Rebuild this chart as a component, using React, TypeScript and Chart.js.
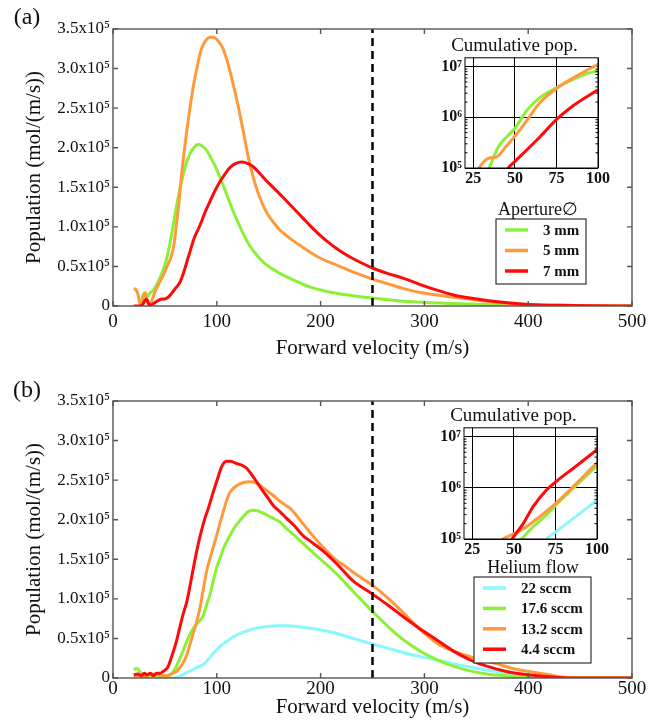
import React, { useEffect, useRef } from 'react';
import { Chart, registerables } from 'chart.js';
Chart.register(...registerables);

const FONT = '"Liberation Serif", "DejaVu Serif", serif';

// ---------- axis ticks ----------
const X_TICKS = [0, 100, 200, 300, 400, 500];
const X_TICK_LABELS = ['0', '100', '200', '300', '400', '500'];
const Y_TICKS = [0, 0.5, 1, 1.5, 2, 2.5, 3, 3.5]; // units of 1e5
const Y_TICK_LABELS = ['0', '0.5x10⁵', '1.0x10⁵', '1.5x10⁵', '2.0x10⁵', '2.5x10⁵', '3.0x10⁵', '3.5x10⁵'];
const INSET_X_TICKS = [25, 50, 75, 100];
const INSET_X_LABELS = ['25', '50', '75', '100'];
const INSET_Y_TICKS = [1e5, 1e6, 1e7];
const INSET_Y_LABELS = ['10⁵', '10⁶', '10⁷'];
const CUTOFF_VELOCITY = 250;
const CUTOFF_RANGE = [0, 3.5];

// ---------- panel (a): aperture ----------
const A_LABELS = ['3 mm', '5 mm', '7 mm'];
const A_3MM: [number, number][] = [[27,0.04],[29,0.14],[31,0.17],[33,0.12],[36,0.17],[39,0.2],[42,0.27],[45,0.35],[48.5,0.46],[51.7,0.6],[55,0.8],[58,1.02],[61,1.25],[64.5,1.48],[68,1.68],[71,1.82],[74,1.92],[77.4,1.99],[80,2.03],[83,2.04],[86,2.02],[90,1.97],[94,1.88],[98,1.78],[102,1.66],[106,1.53],[111,1.36],[116,1.19],[121,1.04],[125.6,0.91],[130,0.8],[135,0.7],[140,0.62],[145,0.55],[151,0.49],[156,0.45],[161,0.41],[167,0.37],[175,0.32],[183,0.275],[191,0.235],[199,0.205],[215,0.16],[231,0.13],[250,0.1],[265,0.08],[280,0.06],[300,0.045],[320,0.035],[344,0.025],[370,0.015],[400,0.008],[450,0.003],[500,0.001]];
const A_5MM: [number, number][] = [[20,0.22],[22,0.21],[24,0.15],[26,0.03],[27.6,0],[29,0.1],[30.8,0.16],[32.5,0.1],[34,0.02],[35.6,0],[37,0.05],[40.5,0.18],[44,0.28],[48.5,0.39],[52,0.5],[56.5,0.64],[59,0.8],[61,1.02],[63.5,1.3],[66,1.65],[70,2.1],[74,2.49],[78,2.82],[82,3.08],[85,3.24],[88.6,3.34],[92,3.39],[96,3.4],[100,3.37],[103,3.32],[106,3.25],[111,3.05],[116,2.79],[121,2.5],[125.6,2.2],[130,1.9],[135,1.63],[140,1.42],[145,1.26],[150,1.14],[155,1.05],[160,0.97],[167,0.89],[175,0.81],[183,0.74],[191,0.67],[199,0.61],[207,0.56],[215,0.52],[231,0.43],[250,0.34],[265,0.28],[280,0.22],[296,0.17],[312,0.14],[328,0.11],[344,0.085],[360,0.06],[380,0.035],[400,0.02],[430,0.008],[460,0.003],[500,0.001]];
const A_7MM: [number, number][] = [[20,0],[26,0],[28,0.01],[30,0.05],[32,0.09],[34,0.04],[36,0.01],[38,0.02],[41,0.05],[44,0.07],[47,0.09],[50,0.09],[53,0.11],[56.5,0.16],[60,0.22],[64.5,0.3],[68,0.42],[71,0.55],[74,0.68],[78,0.85],[83.8,1.02],[88,1.16],[93.4,1.32],[98,1.45],[103,1.57],[108,1.67],[112.7,1.75],[118,1.8],[124,1.82],[130,1.8],[135,1.76],[141,1.68],[148,1.58],[155,1.49],[161,1.41],[167,1.33],[175,1.22],[183,1.11],[191,1.0],[199,0.9],[207,0.81],[215,0.73],[223,0.66],[231,0.6],[240,0.54],[250,0.48],[265,0.41],[280,0.35],[296,0.27],[312,0.2],[328,0.14],[344,0.1],[360,0.07],[380,0.04],[400,0.02],[430,0.008],[460,0.003],[500,0]];

// inset (a): cumulative population
const AI_3MM: [number, number][] = [[33,7e4],[34.6,1e5],[40,2.6e5],[45,4.1e5],[50.4,6.3e5],[57,1.35e6],[65,2.45e6],[75.4,3.9e6],[85,5.6e6],[92,7.1e6],[100,8.3e6]];
const AI_5MM: [number, number][] = [[27,7e4],[28.6,1e5],[32,1.4e5],[35,1.6e5],[39,1.66e5],[45,2.75e5],[50.4,4.4e5],[57,8.5e5],[65,1.95e6],[75.4,3.8e6],[85,6.0e6],[100,1.12e7]];
const AI_7MM: [number, number][] = [[44,8e4],[46,1e5],[50.4,1.38e5],[65,4.1e5],[75.4,9.3e5],[85,1.7e6],[100,3.5e6]];

// ---------- panel (b): helium flow ----------
const B_LABELS = ['22 sccm', '17.6 sccm', '13.2 sccm', '4.4 sccm'];
const B_22: [number, number][] = [[50,0],[58,0],[62,0.01],[66,0.03],[71,0.07],[76,0.1],[80,0.13],[84,0.15],[88,0.18],[92,0.24],[96.6,0.31],[100,0.36],[105,0.42],[109.5,0.46],[115,0.51],[122,0.56],[130,0.6],[138.4,0.63],[145,0.645],[151,0.655],[160,0.66],[167,0.66],[175,0.655],[183,0.64],[199,0.61],[215,0.565],[231,0.5],[250,0.43],[265,0.375],[280,0.32],[296,0.27],[312,0.23],[328,0.18],[344,0.14],[360,0.1],[380,0.06],[400,0.035],[420,0.015],[440,0.005],[460,0],[500,0]];
const B_176: [number, number][] = [[20,0.11],[23,0.12],[26,0.08],[28,0.03],[32,0.02],[38,0.03],[44,0.02],[48,0.02],[52,0.02],[56,0.05],[60,0.12],[64.5,0.25],[68,0.36],[71,0.46],[74,0.55],[77.4,0.63],[82,0.7],[87,0.79],[90,0.92],[93.4,1.05],[97,1.25],[100,1.4],[103,1.51],[106,1.62],[109,1.71],[112.7,1.8],[117,1.9],[121,1.97],[125.6,2.04],[130,2.1],[135,2.12],[140,2.11],[145,2.08],[151,2.04],[157,2.0],[161,1.97],[167,1.89],[175,1.8],[183,1.7],[199,1.51],[215,1.32],[231,1.1],[250,0.84],[265,0.65],[280,0.48],[296,0.34],[312,0.23],[328,0.15],[344,0.09],[360,0.05],[380,0.025],[400,0.01],[420,0.003],[440,0],[500,0]];
const B_132: [number, number][] = [[20,0.02],[25,0.03],[30,0.02],[35,0.04],[40,0.05],[45,0.04],[48.5,0.03],[52,0.03],[56,0.05],[61,0.08],[65,0.14],[68,0.2],[71,0.29],[74,0.42],[77,0.55],[80.6,0.71],[84,0.9],[87,1.12],[90,1.34],[95,1.58],[99.8,1.8],[104,2.0],[108,2.18],[111,2.3],[114,2.37],[118,2.42],[125.6,2.47],[131,2.48],[136.8,2.47],[142,2.43],[148,2.37],[155,2.3],[161,2.23],[171,2.14],[183,1.95],[191,1.82],[199,1.7],[207,1.59],[215,1.49],[223,1.42],[231,1.34],[240,1.26],[250,1.17],[263,1.03],[280,0.82],[296,0.61],[312,0.44],[328,0.34],[344,0.27],[360,0.21],[370,0.18],[385,0.12],[402,0.08],[420,0.04],[434,0.01],[450,0],[500,0]];
const B_44: [number, number][] = [[20,0.04],[24,0.05],[27,0.03],[30,0.06],[33,0.04],[36,0.06],[39,0.03],[42,0.06],[45,0.06],[48,0.08],[51,0.11],[53.3,0.15],[56,0.25],[58.5,0.35],[61,0.46],[64,0.62],[67,0.78],[71,0.96],[74,1.15],[77,1.36],[80.6,1.6],[84,1.8],[88.6,2.02],[92,2.15],[96.6,2.35],[100,2.49],[104.7,2.67],[107,2.72],[109.5,2.74],[113,2.74],[119,2.71],[124,2.69],[128.8,2.65],[133,2.58],[138.4,2.48],[144,2.37],[149.6,2.27],[155,2.17],[161,2.1],[167,2.02],[175,1.92],[183,1.8],[191,1.72],[202,1.61],[215,1.45],[231,1.23],[250,1.06],[265,0.92],[280,0.77],[296,0.62],[312,0.48],[328,0.34],[344,0.23],[360,0.15],[380,0.08],[400,0.04],[420,0.015],[440,0],[500,0]];

// inset (b)
const BI_22: [number, number][] = [[67,8e4],[69.6,1e5],[75.2,1.38e5],[85.6,2.5e5],[100,5.75e5]];
const BI_176: [number, number][] = [[52,8e4],[54.6,1e5],[61.6,1.74e5],[69.6,2.95e5],[75.2,4.6e5],[85.6,9.8e5],[100,2.7e6]];
const BI_132: [number, number][] = [[41,8e4],[43.6,1e5],[50,1.26e5],[57.6,1.74e5],[65.6,2.75e5],[75.2,5.0e5],[85.6,1.05e6],[100,3.1e6]];
const BI_44: [number, number][] = [[48,9e4],[50,1.12e5],[55.6,2.0e5],[61.6,4.3e5],[69.6,9.1e5],[75.2,1.32e6],[85.6,2.4e6],[100,5.6e6]];

// ---------- styles ----------
const GREEN = '#8cf136';
const ORANGE = '#ff9a3c';
const RED = '#ff0a0a';
const CYAN = '#88f8ff';
const FRAME = '#555555';
const TEXT = '#111111';

const xy = (arr: [number, number][]) => arr.map(([x, y]) => ({ x, y }));

function makeFramePlugin(color: string, len: number, width: number) {
  return {
    id: 'frameTicks',
    afterDraw(chart: any) {
      const { ctx, chartArea: a, scales } = chart;
      ctx.save();
      ctx.strokeStyle = color;
      ctx.lineWidth = width;
      ctx.strokeRect(a.left, a.top, a.right - a.left, a.bottom - a.top);
      ctx.beginPath();
      scales.x.ticks.forEach((t: any) => {
        const px = scales.x.getPixelForValue(t.value);
        ctx.moveTo(px, a.bottom); ctx.lineTo(px, a.bottom - len);
        ctx.moveTo(px, a.top); ctx.lineTo(px, a.top + len);
      });
      scales.y.ticks.forEach((t: any) => {
        const py = scales.y.getPixelForValue(t.value);
        ctx.moveTo(a.left, py); ctx.lineTo(a.left + len, py);
        ctx.moveTo(a.right, py); ctx.lineTo(a.right - len, py);
      });
      ctx.stroke();
      ctx.restore();
    },
  };
}

function makeLegendPlugin(opts: any) {
  return {
    id: 'boxLegend',
    afterDraw(chart: any) {
      const { ctx } = chart;
      const { box, titleX, titleY, title, row0, rowStep, lineX0, lineX1, textX } = opts;
      ctx.save();
      ctx.font = `18px ${FONT}`;
      ctx.fillStyle = TEXT;
      ctx.textAlign = 'center';
      ctx.textBaseline = 'middle';
      ctx.fillText(title, titleX, titleY);
      ctx.fillStyle = '#ffffff';
      ctx.fillRect(box.x, box.y, box.w, box.h);
      ctx.strokeStyle = '#333333';
      ctx.lineWidth = 1.2;
      ctx.strokeRect(box.x, box.y, box.w, box.h);
      const ds = chart.data.datasets.filter((d: any) => !d.guide);
      ds.forEach((d: any, i: number) => {
        const y = row0 + i * rowStep;
        ctx.strokeStyle = d.borderColor;
        ctx.lineWidth = 3.5;
        ctx.beginPath();
        ctx.moveTo(lineX0, y); ctx.lineTo(lineX1, y);
        ctx.stroke();
        ctx.fillStyle = TEXT;
        ctx.font = `bold 15px ${FONT}`;
        ctx.textAlign = 'left';
        ctx.fillText(d.label, textX, y + 1);
      });
      ctx.restore();
    },
  };
}

function makePanelLabelPlugin(text: string, x: number, y: number) {
  return {
    id: 'panelLabel',
    afterDraw(chart: any) {
      const { ctx } = chart;
      ctx.save();
      ctx.font = `24px ${FONT}`;
      ctx.fillStyle = TEXT;
      ctx.textAlign = 'center';
      ctx.textBaseline = 'middle';
      ctx.fillText(text, x, y);
      ctx.restore();
    },
  };
}

function lineDs(label: string, data: [number, number][], color: string, order: number) {
  return {
    label,
    data: xy(data),
    borderColor: color,
    backgroundColor: color,
    borderWidth: 3,
    pointRadius: 0,
    cubicInterpolationMode: 'monotone',
    fill: false,
    order,
  };
}

function MainPanel(props: any) {
  const ref = useRef<HTMLCanvasElement>(null);
  const { top, height, areaTop, xAxisHeight, xTickPad, xTitlePad, series, legend, panel } = props;
  useEffect(() => {
    const datasets: any[] = series.map((s: any) => lineDs(s.label, s.data, s.color, s.order));
    datasets.push({
      label: 'cutoff',
      guide: true,
      data: [{ x: CUTOFF_VELOCITY, y: CUTOFF_RANGE[0] }, { x: CUTOFF_VELOCITY, y: CUTOFF_RANGE[1] }],
      borderColor: '#000000',
      borderWidth: 2.5,
      borderDash: [8, 5],
      pointRadius: 0,
      fill: false,
      order: -1,
    });
    const chart = new Chart(ref.current as HTMLCanvasElement, {
      type: 'line',
      data: { datasets },
      options: {
        animation: false,
        responsive: false,
        maintainAspectRatio: false,
        events: [],
        layout: { padding: { left: 0, top: areaTop, right: 28, bottom: 0 } },
        plugins: { legend: { display: false }, tooltip: { enabled: false }, title: { display: false } },
        scales: {
          x: {
            type: 'linear',
            min: 0,
            max: 500,
            afterBuildTicks: (s: any) => { s.ticks = X_TICKS.map((v) => ({ value: v })); },
            ticks: {
              font: { family: FONT, size: 19 },
              color: TEXT,
              padding: xTickPad,
              autoSkip: false,
              maxRotation: 0,
              callback: (v: any) => X_TICK_LABELS[X_TICKS.indexOf(Number(v))],
            },
            grid: { display: false, drawTicks: false },
            border: { display: false },
            title: {
              display: true,
              text: 'Forward velocity (m/s)',
              font: { family: FONT, size: 21 },
              color: TEXT,
              padding: { top: 0, bottom: xTitlePad },
            },
            afterFit: (s: any) => { s.height = xAxisHeight; },
          },
          y: {
            type: 'linear',
            min: 0,
            max: 3.5,
            afterBuildTicks: (s: any) => { s.ticks = Y_TICKS.map((v) => ({ value: v })); },
            ticks: {
              font: { family: FONT, size: 17 },
              color: TEXT,
              padding: 3,
              autoSkip: false,
              callback: (v: any) => Y_TICK_LABELS[Y_TICKS.indexOf(Number(v))],
            },
            grid: { display: false, drawTicks: false },
            border: { display: false },
            title: {
              display: true,
              text: 'Population (mol/(m/s))',
              font: { family: FONT, size: 21 },
              color: TEXT,
              padding: { top: 22, bottom: 0 },
            },
            afterFit: (s: any) => { s.width = 113; },
          },
        },
      } as any,
      plugins: [makeFramePlugin(FRAME, 5, 1.4), makeLegendPlugin(legend), makePanelLabelPlugin(panel.text, panel.x, panel.y)],
    });
    return () => chart.destroy();
  }, []);
  return (
    <canvas
      ref={ref}
      width={660}
      height={height}
      style={{ position: 'absolute', left: 0, top, width: 660, height }}
    />
  );
}

function makeMinorTicksPlugin() {
  return {
    id: 'minorTicks',
    afterDraw(chart: any) {
      const { ctx, chartArea: a, scales } = chart;
      const y = scales.y;
      ctx.save();
      ctx.strokeStyle = '#000000';
      ctx.lineWidth = 1;
      ctx.strokeRect(a.left, a.top, a.right - a.left, a.bottom - a.top);
      ctx.beginPath();
      for (let e = 5; e <= 7; e++) {
        for (let m = 2; m <= 9; m++) {
          const v = m * Math.pow(10, e);
          if (v < y.min || v > y.max) continue;
          const py = y.getPixelForValue(v);
          ctx.moveTo(a.left, py); ctx.lineTo(a.left + 2.5, py);
          ctx.moveTo(a.right, py); ctx.lineTo(a.right - 2.5, py);
        }
      }
      ctx.stroke();
      ctx.restore();
    },
  };
}

function InsetPanel(props: any) {
  const ref = useRef<HTMLCanvasElement>(null);
  const { left, top, axisHeight, series } = props;
  useEffect(() => {
    const datasets = series.map((s: any) => lineDs(s.label, s.data, s.color, s.order));
    const chart = new Chart(ref.current as HTMLCanvasElement, {
      type: 'line',
      data: { datasets },
      options: {
        animation: false,
        responsive: false,
        maintainAspectRatio: false,
        events: [],
        layout: { padding: { left: 0, top: 0, right: 35, bottom: 0 } },
        plugins: {
          legend: { display: false },
          tooltip: { enabled: false },
          title: {
            display: true,
            text: 'Cumulative pop.',
            font: { family: FONT, size: 19, weight: 'normal' },
            color: TEXT,
            padding: { top: 5, bottom: 0 },
          },
        },
        scales: {
          x: {
            type: 'linear',
            min: 20,
            max: 100,
            afterBuildTicks: (s: any) => { s.ticks = INSET_X_TICKS.map((v) => ({ value: v })); },
            ticks: {
              font: { family: FONT, size: 16, weight: 'bold' },
              color: TEXT,
              padding: 1,
              autoSkip: false,
              maxRotation: 0,
              callback: (v: any) => INSET_X_LABELS[INSET_X_TICKS.indexOf(Number(v))],
            },
            grid: { color: '#000000', lineWidth: 1, drawTicks: false },
            border: { display: false },
            afterFit: (s: any) => { s.height = axisHeight; },
          },
          y: {
            type: 'logarithmic',
            min: 1e5,
            max: 1.5e7,
            afterBuildTicks: (s: any) => { s.ticks = INSET_Y_TICKS.map((v) => ({ value: v })); },
            ticks: {
              font: { family: FONT, size: 16, weight: 'bold' },
              color: TEXT,
              padding: 3,
              autoSkip: false,
              callback: (v: any) => INSET_Y_LABELS[INSET_Y_TICKS.indexOf(Number(v))],
            },
            grid: { color: '#000000', lineWidth: 1, drawTicks: false },
            border: { display: false },
            afterFit: (s: any) => { s.width = 34; },
          },
        },
      } as any,
      plugins: [makeMinorTicksPlugin()],
    });
    return () => chart.destroy();
  }, []);
  return (
    <canvas
      ref={ref}
      width={202}
      height={160}
      style={{ position: 'absolute', left, top, width: 202, height: 160 }}
    />
  );
}

export default function App() {
  const seriesA = [
    { label: A_LABELS[0], data: A_3MM, color: GREEN, order: 2 },
    { label: A_LABELS[1], data: A_5MM, color: ORANGE, order: 1 },
    { label: A_LABELS[2], data: A_7MM, color: RED, order: 0 },
  ];
  const insetA = [
    { label: A_LABELS[0], data: AI_3MM, color: GREEN, order: 2 },
    { label: A_LABELS[1], data: AI_5MM, color: ORANGE, order: 1 },
    { label: A_LABELS[2], data: AI_7MM, color: RED, order: 0 },
  ];
  const seriesB = [
    { label: B_LABELS[0], data: B_22, color: CYAN, order: 3 },
    { label: B_LABELS[1], data: B_176, color: GREEN, order: 2 },
    { label: B_LABELS[2], data: B_132, color: ORANGE, order: 1 },
    { label: B_LABELS[3], data: B_44, color: RED, order: 0 },
  ];
  const insetB = [
    { label: B_LABELS[0], data: BI_22, color: CYAN, order: 3 },
    { label: B_LABELS[1], data: BI_176, color: GREEN, order: 2 },
    { label: B_LABELS[2], data: BI_132, color: ORANGE, order: 1 },
    { label: B_LABELS[3], data: BI_44, color: RED, order: 0 },
  ];
  return (
    <div style={{ position: 'fixed', left: 0, top: 0, width: 660, height: 727, background: '#ffffff' }}>
      <MainPanel
        top={0}
        height={362}
        areaTop={29}
        xAxisHeight={56}
        xTickPad={5}
        xTitlePad={1.4}
        series={seriesA}
        panel={{ text: '(a)', x: 27, y: 18 }}
        legend={{
          title: 'Aperture∅', titleX: 538, titleY: 210,
          box: { x: 496, y: 219, w: 90, h: 65 },
          row0: 230, rowStep: 20.5, lineX0: 505, lineX1: 528, textX: 543,
        }}
      />
      <MainPanel
        top={362}
        height={365}
        areaTop={39}
        xAxisHeight={49}
        xTickPad={0}
        xTitlePad={7.4}
        series={seriesB}
        panel={{ text: '(b)', x: 27, y: 29 }}
        legend={{
          title: 'Helium flow', titleX: 533, titleY: 206,
          box: { x: 474, y: 215, w: 117, h: 86 },
          row0: 226, rowStep: 20.4, lineX0: 483, lineX1: 506, textX: 521,
        }}
      />
      <InsetPanel left={431} top={30} axisHeight={22} series={insetA} />
      <InsetPanel left={430} top={400} axisHeight={21} series={insetB} />
    </div>
  );
}
